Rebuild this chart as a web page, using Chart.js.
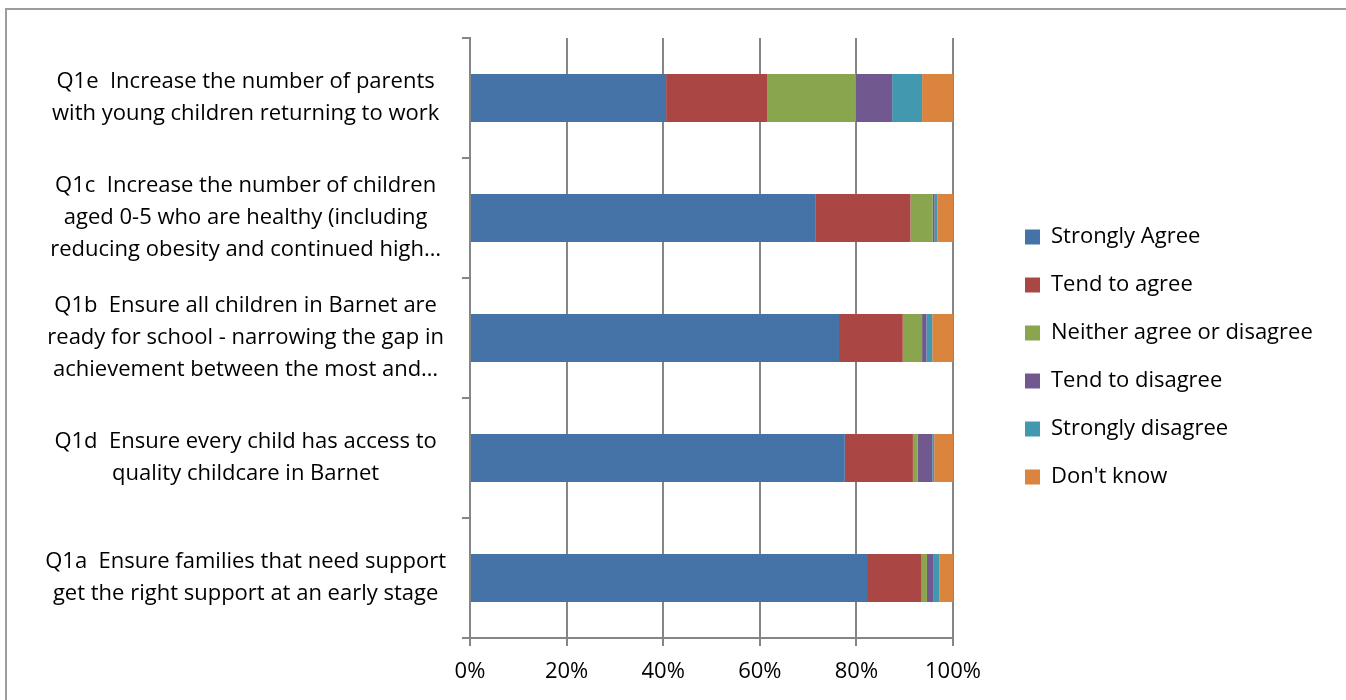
<!DOCTYPE html>
<html>
<head>
<meta charset="utf-8">
<title>Early years priorities – level of agreement</title>
<script src="https://cdn.jsdelivr.net/npm/chart.js@4.4.0/dist/chart.umd.min.js"></script>
<style>
  html, body { margin: 0; padding: 0; background: #fff; }
  #wrap { position: relative; width: 1346px; height: 700px; overflow: hidden; }
  #frame {
    position: absolute; left: 5px; top: 8px; width: 1400px; height: 800px;
    border-left: 2px solid #9c9c9c; border-top: 2px solid #9c9c9c;
    pointer-events: none;
  }
  canvas { position: absolute; left: 0; top: 0; }
</style>
</head>
<body>
<div id="wrap">
  <canvas id="chart" width="1346" height="700"></canvas>
  <div id="frame"></div>
</div>
<script>
// Survey questions, top to bottom
const categories = [
  ["Q1e  Increase the number of parents", "with young children returning to work"],
  ["Q1c  Increase the number of children", "aged 0-5 who are healthy (including", "reducing obesity and continued high\u2026"],
  ["Q1b  Ensure all children in Barnet are", "ready for school - narrowing the gap in", "achievement between the most and\u2026"],
  ["Q1d  Ensure every child has access to", "quality childcare in Barnet"],
  ["Q1a  Ensure families that need support", "get the right support at an early stage"]
];

// Share of responses (%) for each question, in the order above
const stronglyAgree    = [40.6, 71.6, 76.4, 77.6, 82.2];
const tendToAgree      = [21.0, 19.6, 13.2, 14.1, 11.3];
const neither          = [18.3,  4.6,  4.0,  1.0,  1.1];
const tendToDisagree   = [ 7.5,  0.4,  0.9,  3.0,  1.4];
const stronglyDisagree = [ 6.2,  0.6,  1.2,  0.4,  1.2];
const dontKnow         = [ 6.4,  3.2,  4.3,  3.9,  2.8];

const seriesNames = ["Strongly Agree", "Tend to agree", "Neither agree or disagree",
                     "Tend to disagree", "Strongly disagree", "Don't know"];
const seriesValues = [stronglyAgree, tendToAgree, neither, tendToDisagree, stronglyDisagree, dontKnow];
const seriesColors = ["#4572A7", "#AA4643", "#89A54E", "#71588F", "#4198AF", "#DB843D"];

const xTicks = [0, 20, 40, 60, 80, 100];

const FONT = "'Open Sans', 'Noto Sans', sans-serif";
const FONT_SIZE = 22;
const AXIS_GREY = "#868686";

// Legend sits in a fixed-width column; its entries start a little right of the plot
const LEGEND_WIDTH = 393;
const LEGEND_ITEM_X = 1025;
const LEGEND_DY = -12;

const legendPlacement = {
  id: 'legendPlacement',
  beforeLayout(chart) {
    const lg = chart.legend;
    if (lg && !lg._fixedWidth) {
      const fit = lg.fit;
      lg.fit = function () { fit.call(this); this.width = LEGEND_WIDTH; };
      lg._fixedWidth = true;
    }
  },
  afterLayout(chart) {
    const lg = chart.legend;
    if (!lg) return;
    const dx = LEGEND_ITEM_X - lg.options.labels.padding - lg.left;
    lg.left += dx; lg.right += dx;
    lg.top += LEGEND_DY; lg.bottom += LEGEND_DY;
  }
};

Chart.defaults.font.family = FONT;
Chart.defaults.color = "#000";

new Chart(document.getElementById("chart"), {
  type: "bar",
  data: {
    labels: categories,
    datasets: seriesNames.map((name, i) => ({
      label: name,
      data: seriesValues[i],
      backgroundColor: seriesColors[i],
      borderWidth: 0,
      barPercentage: 0.4,
      categoryPercentage: 1.0
    }))
  },
  options: {
    indexAxis: "y",
    responsive: false,
    animation: false,
    devicePixelRatio: 1,
    layout: { padding: { top: 38, left: 0, right: 0, bottom: 0 } },
    plugins: {
      tooltip: { enabled: false },
      legend: {
        position: "right",
        align: "center",
        labels: {
          boxWidth: 15,
          boxHeight: 15,
          padding: 26,
          font: { size: FONT_SIZE, family: FONT },
          color: "#000"
        }
      }
    },
    scales: {
      x: {
        stacked: true,
        min: 0,
        max: 100,
        afterBuildTicks(scale) { scale.ticks = xTicks.map(v => ({ value: v })); },
        afterFit(scale) { scale.height = 62; },
        ticks: {
          callback: v => v + "%",
          font: { size: FONT_SIZE, family: FONT },
          color: "#000",
          padding: 13,
          maxRotation: 0
        },
        grid: { color: AXIS_GREY, lineWidth: 2, tickLength: 8, drawTicks: true },
        border: { color: AXIS_GREY, width: 2 }
      },
      y: {
        stacked: true,
        afterFit(scale) {
          scale.width = 470;
          scale.paddingTop = 0;
          scale.paddingBottom = 0;
        },
        ticks: {
          crossAlign: "center",
          padding: 16,
          font: { size: FONT_SIZE, family: FONT, lineHeight: 32 / FONT_SIZE },
          color: "#000",
          autoSkip: false
        },
        grid: { offset: true, drawOnChartArea: false, color: AXIS_GREY, lineWidth: 2, tickLength: 8 },
        border: { color: AXIS_GREY, width: 2 }
      }
    }
  },
  plugins: [legendPlacement]
});
</script>
</body>
</html>
